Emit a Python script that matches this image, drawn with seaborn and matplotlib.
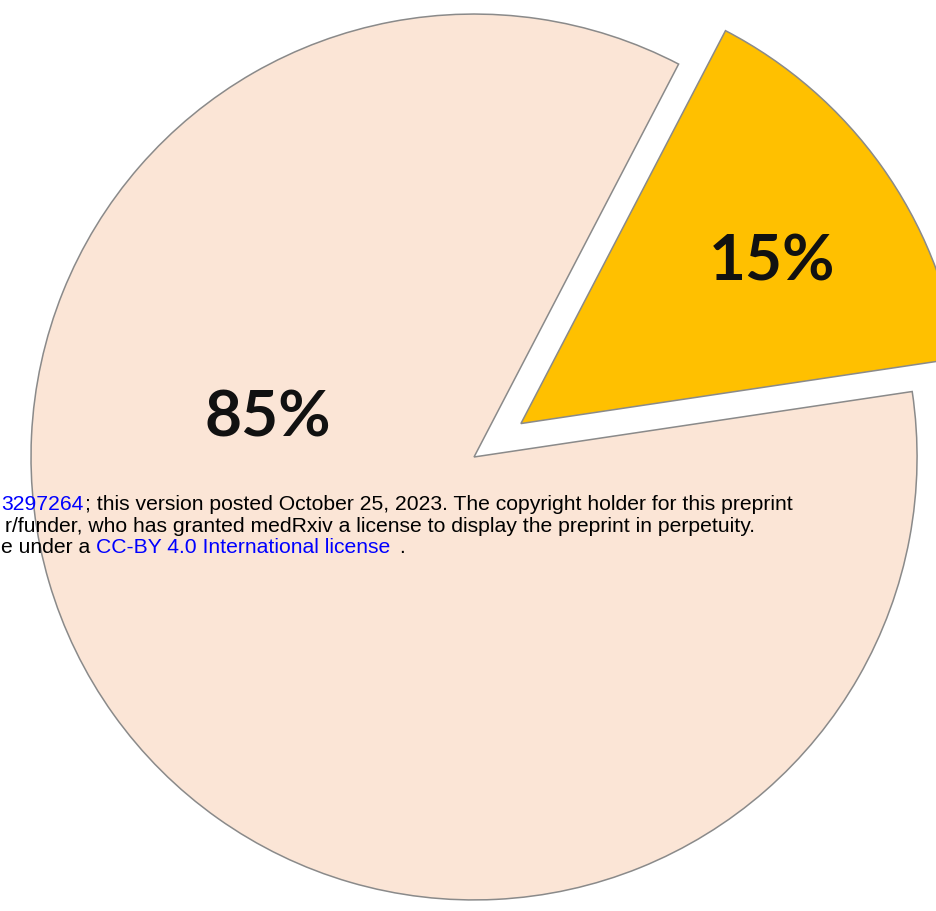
import matplotlib
matplotlib.use("Agg")
import matplotlib.pyplot as plt
import seaborn as sns

# data
categories = ["Group A", "Group B"]
shares = [15, 85]
slice_colors = ["#FFC000", "#FBE5D6"]
explode = [0.13, 0.0]
label_pos = [(0.673, 0.442), (-0.465, 0.09)]

# preprint stamp, only the part that is visible in the picture
stamp_doi = "3297264"
stamp_line1 = "; this version posted October 25, 2023. The copyright holder for this preprint"
stamp_line2 = "r/funder, who has granted medRxiv a license to display the preprint in perpetuity."
stamp_line3a = "e under a"
stamp_line3b = "CC-BY 4.0 International license"
stamp_line3c = "."

sns.set_theme(style="white")
plt.rcParams["font.family"] = ["Liberation Sans", "DejaVu Sans"]

W, H = 937, 912
fig = plt.figure(figsize=(W / 100, H / 100), dpi=100)
ax = fig.add_axes([0, 0, 1, 1])

ax.pie(shares, explode=explode, colors=slice_colors, startangle=8.5,
       counterclock=True, radius=1.0,
       wedgeprops=dict(edgecolor="#8a8a8a", linewidth=1.1))

for (x, y), v in zip(label_pos, shares):
    ax.text(x, y, f"{v}%", ha="center", va="center", fontsize=46,
            fontweight="bold", family="Lato", color="#111111")

ax.set_xlim(-1.070, 1.045)
ax.set_ylim(-1.025, 1.034)
ax.set_aspect("auto")
ax.axis("off")


def px(x, y):
    return x / W, 1 - y / H


fs = 15.2
blue = "#0000FF"
fig.text(*px(1, 510), stamp_doi, ha="left", va="baseline", fontsize=fs, color=blue)
fig.text(*px(85, 510), stamp_line1, ha="left", va="baseline", fontsize=fs, color="black")
fig.text(*px(755, 532), stamp_line2, ha="right", va="baseline", fontsize=fs, color="black")
fig.text(*px(1, 553), stamp_line3a, ha="left", va="baseline", fontsize=fs, color="black")
fig.text(*px(96, 553), stamp_line3b, ha="left", va="baseline", fontsize=fs, color=blue)
fig.text(*px(399, 553), stamp_line3c, ha="left", va="baseline", fontsize=fs, color="black")

fig.savefig("out.png", dpi=100, facecolor="white")
